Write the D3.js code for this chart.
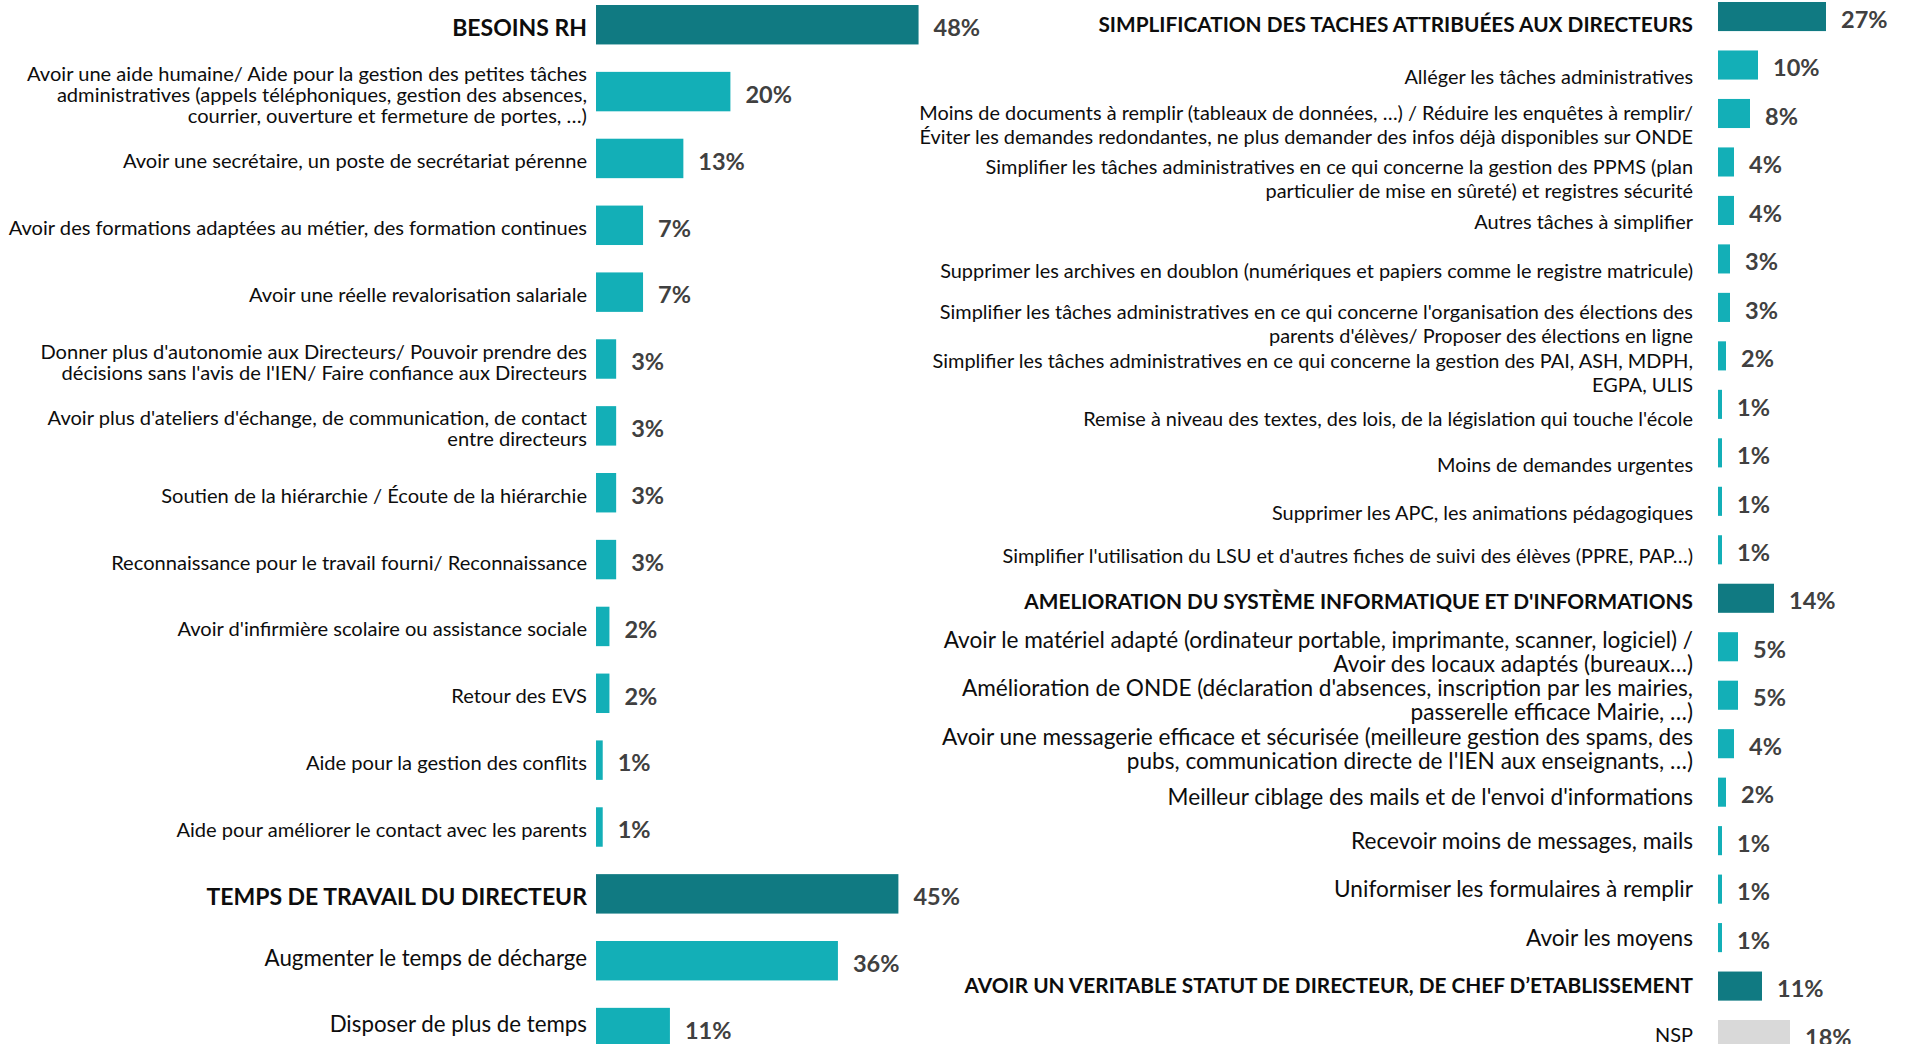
<!DOCTYPE html>
<html>
<head>
<meta charset="utf-8">
<script src="https://cdn.jsdelivr.net/npm/d3@7"></script>
<style>
  body { margin: 0; background: #fff; }
  svg { display: block; font-family: Lato, "Open Sans", sans-serif; }
</style>
</head>
<body>
<svg></svg>
<script>
// left column: besoins RH + temps de travail
const leftLabels = [
  "BESOINS RH",
  "Avoir une aide humaine/ Aide pour la gestion des petites tâches\nadministratives (appels téléphoniques, gestion des absences,\ncourrier, ouverture et fermeture de portes, …)",
  "Avoir une secrétaire, un poste de secrétariat pérenne",
  "Avoir des formations adaptées au métier, des formation continues",
  "Avoir une réelle revalorisation salariale",
  "Donner plus d'autonomie aux Directeurs/ Pouvoir prendre des\ndécisions sans l'avis de l'IEN/ Faire confiance aux Directeurs",
  "Avoir plus d'ateliers d'échange, de communication, de contact\nentre directeurs",
  "Soutien de la hiérarchie / Écoute de la hiérarchie",
  "Reconnaissance pour le travail fourni/ Reconnaissance",
  "Avoir d'infirmière scolaire ou assistance sociale",
  "Retour des EVS",
  "Aide pour la gestion des conflits",
  "Aide pour améliorer le contact avec les parents",
  "TEMPS DE TRAVAIL DU DIRECTEUR",
  "Augmenter le temps de décharge",
  "Disposer de plus de temps",
];
const leftValues = [48, 20, 13, 7, 7, 3, 3, 3, 3, 2, 2, 1, 1, 45, 36, 11];
const leftHeaders = [0, 13];

// right column: simplification, informatique, statut, NSP
const rightLabels = [
  "SIMPLIFICATION DES TACHES ATTRIBUÉES AUX DIRECTEURS",
  "Alléger les tâches administratives",
  "Moins de documents à remplir (tableaux de données, …) / Réduire les enquêtes à remplir/\nÉviter les demandes redondantes, ne plus demander des infos déjà disponibles sur ONDE",
  "Simplifier les tâches administratives en ce qui concerne la gestion des PPMS (plan\nparticulier de mise en sûreté) et registres sécurité",
  "Autres tâches à simplifier",
  "Supprimer les archives en doublon (numériques et papiers comme le registre matricule)",
  "Simplifier les tâches administratives en ce qui concerne l'organisation des élections des\nparents d'élèves/ Proposer des élections en ligne",
  "Simplifier les tâches administratives en ce qui concerne la gestion des PAI, ASH, MDPH,\nEGPA, ULIS",
  "Remise à niveau des textes, des lois, de la législation qui touche l'école",
  "Moins de demandes urgentes",
  "Supprimer les APC, les animations pédagogiques",
  "Simplifier l'utilisation du LSU et d'autres fiches de suivi des élèves (PPRE, PAP…)",
  "AMELIORATION DU SYSTÈME INFORMATIQUE ET D'INFORMATIONS",
  "Avoir le matériel adapté (ordinateur portable, imprimante, scanner, logiciel) /\nAvoir des locaux adaptés (bureaux…)",
  "Amélioration de ONDE (déclaration d'absences, inscription par les mairies,\npasserelle efficace Mairie, …)",
  "Avoir une messagerie efficace et sécurisée (meilleure gestion des spams, des\npubs, communication directe de l'IEN aux enseignants, …)",
  "Meilleur ciblage des mails et de l'envoi d'informations",
  "Recevoir moins de messages, mails",
  "Uniformiser les formulaires à remplir",
  "Avoir les moyens",
  "AVOIR UN VERITABLE STATUT DE DIRECTEUR, DE CHEF D’ETABLISSEMENT",
  "NSP",
];
const rightValues = [27, 10, 8, 4, 4, 3, 3, 2, 1, 1, 1, 1, 14, 5, 5, 4, 2, 1, 1, 1, 11, 18];
const rightHeaders = [0, 12, 20];
const rightNsp = [21];

const width = 1906;
const height = 1044;

const DARK = "#107a82";
const LIGHT = "#13afb7";
const GREY = "#d9d9d9";

const svg = d3.select("svg").attr("width", width).attr("height", height);

const drawColumn = (opts) => {
  const { labels, values, headers, nsp, x, y, labelX, labelSize, headerSize, lineH, shift } = opts;
  const rows = labels.map((label, i) => ({
    i,
    label,
    value: values[i],
    header: headers.includes(i),
    nsp: nsp.includes(i),
  }));

  const g = svg.append("g");

  g.selectAll("rect")
    .data(rows)
    .enter()
    .append("rect")
    .attr("x", x(0))
    .attr("y", (d) => y(d.i))
    .attr("width", (d) => x(d.value) - x(0))
    .attr("height", y.bandwidth())
    .attr("fill", (d) => (d.header ? DARK : d.nsp ? GREY : LIGHT));

  g.selectAll("text.val")
    .data(rows)
    .enter()
    .append("text")
    .attr("class", "val")
    .attr("x", (d) => x(d.value) + 15)
    .attr("y", (d) => y(d.i) + y.bandwidth() / 2 + 3)
    .attr("dy", "0.35em")
    .attr("font-size", 23.5)
    .attr("font-weight", "bold")
    .attr("fill", "#404040")
    .text((d) => d.value + "%");

  const labelsSel = g.selectAll("text.lab")
    .data(rows)
    .enter()
    .append("text")
    .attr("class", "lab")
    .attr("text-anchor", "end")
    .attr("fill", "#0d0d0d")
    .attr("font-size", (d) => (d.header ? headerSize : labelSize(d.i)))
    .attr("font-weight", (d) => (d.header ? "bold" : "normal"));

  labelsSel.each(function (d) {
    const lines = d.label.split("\n");
    const cy = y(d.i) + y.bandwidth() / 2 + shift(d);
    const top = cy - ((lines.length - 1) * lineH) / 2;
    d3.select(this)
      .selectAll("tspan")
      .data(lines)
      .enter()
      .append("tspan")
      .attr("x", labelX)
      .attr("y", (l, k) => top + k * lineH)
      .attr("dy", "0.35em")
      .text((l) => l);
  });
};

drawColumn({
  labels: leftLabels,
  values: leftValues,
  headers: leftHeaders,
  nsp: [],
  x: d3.scaleLinear().domain([0, 100]).range([596, 596 + 672]),
  y: d3.scaleBand().domain(d3.range(leftLabels.length)).range([-8.7, 1061]).paddingInner(0.41).paddingOuter(0.205),
  labelX: 587,
  // the temps de travail items use a larger type
  labelSize: (i) => (i > 13 ? 22.3 : 20.1),
  headerSize: 23,
  lineH: 21,
  shift: (d) => (d.i > 13 ? -3 : 3),
});

drawColumn({
  labels: rightLabels,
  values: rightValues,
  headers: rightHeaders,
  nsp: rightNsp,
  x: d3.scaleLinear().domain([0, 100]).range([1718, 1718 + 400]),
  y: d3.scaleBand().domain(d3.range(rightLabels.length)).range([-7.7, 1058.8]).paddingInner(0.4).paddingOuter(0.2),
  labelX: 1693,
  // the informatique block is set in a larger type
  labelSize: (i) => (i > 12 && i < 20 ? 22.6 : 19.9),
  headerSize: 20.8,
  lineH: 24,
  // labels in the first block sit a little below their bars
  shift: (d) => {
    if (d.i === 0) return 8;
    if ([3, 6, 7].includes(d.i)) return 17;
    if (d.i === 8) return 15;
    if (d.i < 11) return 12;
    if (d.i === 11) return 6;
    if (d.i === 12) return 3;
    if (d.i < 17) return 5;
    return 0;
  },
});
</script>
</body>
</html>
